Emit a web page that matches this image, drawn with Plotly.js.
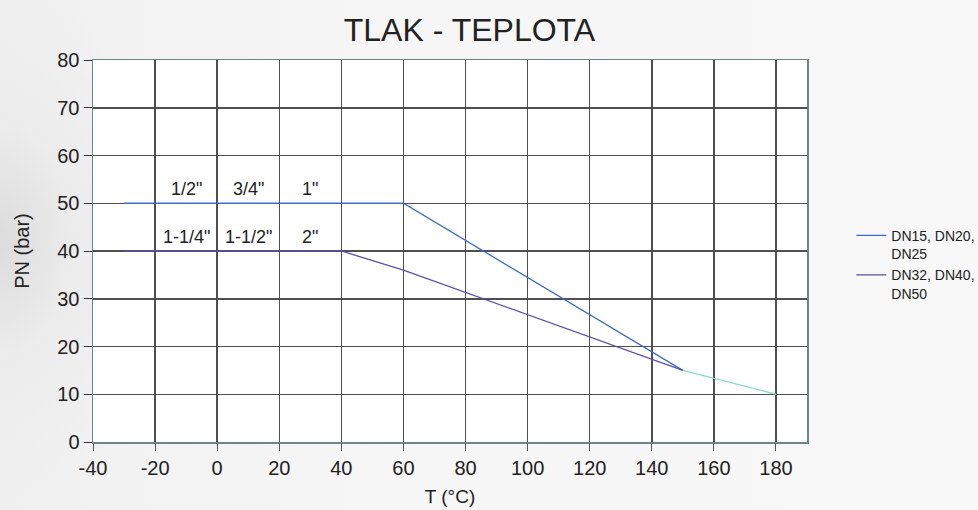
<!DOCTYPE html>
<html>
<head>
<meta charset="utf-8">
<script src="https://cdn.plot.ly/plotly-3.0.1.min.js"></script>
<style>
html,body{margin:0;padding:0;width:978px;height:510px;overflow:hidden;}
body{background:radial-gradient(ellipse 160px 260px at 0px 240px,#dcdcdc 0%,#ececec 45%,rgba(245,245,245,0) 100%),linear-gradient(90deg,#f0f0f0 0%,#f6f6f6 40%,#f8f8f8 100%);}
#chart{width:978px;height:510px;}
</style>
</head>
<body>
<div id="chart"></div>
<script>
// Series 1: DN15, DN20, DN25
var s1Name = "DN15, DN20,<br>DN25";
var s1T = [-30, 60, 150];
var s1PN = [50, 50, 15];
// Series 2: DN32, DN40, DN50
var s2Name = "DN32, DN40,<br>DN50";
var s2T = [-30, 40, 60, 150];
var s2PN = [40, 40, 36, 15];
// Common segment
var sCT = [150, 180];
var sCPN = [15, 10];
// Size labels
var labelT = [-10, 10, 30, -10, 10, 30];
var labelPN = [53, 53, 53, 43, 43, 43];
var labelText = ['1/2"', '3/4"', '1"', '1-1/4"', '1-1/2"', '2"'];
var xTicks = [-40, -20, 0, 20, 40, 60, 80, 100, 120, 140, 160, 180];
var xTickText = ["-40", "-20", "0", "20", "40", "60", "80", "100", "120", "140", "160", "180"];
var yTicks = [0, 10, 20, 30, 40, 50, 60, 70, 80];

var font = "Arial";
var traces = [
  {x: s1T, y: s1PN, name: s1Name, mode: "lines", line: {color: "#3f6cc6", width: 1.3}},
  {x: s2T, y: s2PN, name: s2Name, mode: "lines", line: {color: "#5b4fa8", width: 1.3}},
  {x: sCT, y: sCPN, mode: "lines", showlegend: false, line: {color: "#86dccb", width: 1.3}}
];
var annotations = labelText.map(function(t, i){
  return {x: labelT[i], y: labelPN[i], text: t, showarrow: false, xref: "x", yref: "y",
    font: {family: font, size: 18, color: "#222"}};
});
var layout = {
  width: 978, height: 510,
  paper_bgcolor: "rgba(0,0,0,0)",
  plot_bgcolor: "#ffffff",
  margin: {l: 93, r: 171, t: 60, b: 68, autoexpand: false},
  title: {text: "TLAK - TEPLOTA", x: 0.48, xanchor: "center", y: 0.942, yanchor: "middle",
    font: {family: font, size: 32, color: "#222"}},
  xaxis: {range: [-40, 190], tickvals: xTicks, ticktext: xTickText, ticks: "outside", ticklen: 7, tickcolor: "#555",
    tickfont: {family: font, size: 20, color: "#222"},
    showgrid: true, gridcolor: "#4f4f4f", gridwidth: 1.5,
    showline: true, linecolor: "#6f8585", linewidth: 1.5, mirror: true, zeroline: false,
    title: {text: "T (°C)", font: {family: font, size: 19, color: "#222"}, standoff: 12}},
  yaxis: {range: [0, 80], tickvals: yTicks, ticks: "outside", ticklen: 8, tickcolor: "#333",
    tickfont: {family: font, size: 20, color: "#222"},
    showgrid: true, gridcolor: "#4f4f4f", gridwidth: 1.5,
    showline: true, linecolor: "#6f8585", linewidth: 1.5, mirror: true, zeroline: false,
    title: {text: "PN (bar)", font: {family: font, size: 20, color: "#222"}, standoff: 22}},
  legend: {x: 1.062, xanchor: "left", y: 0.465, yanchor: "middle", bgcolor: "rgba(0,0,0,0)", valign: "top",
    font: {family: font, size: 14, color: "#222"}, tracegroupgap: 0, itemwidth: 30},
  annotations: annotations,
  showlegend: true
};
Plotly.newPlot("chart", traces, layout, {displayModeBar: false, staticPlot: true});
</script>
</body>
</html>
